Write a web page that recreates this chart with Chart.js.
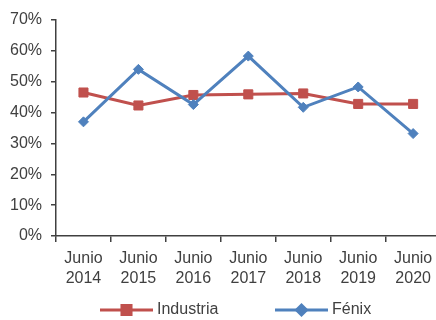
<!DOCTYPE html>
<html>
<head>
<meta charset="utf-8">
<script src="https://cdn.jsdelivr.net/npm/chart.js@4/dist/chart.umd.min.js"></script>
<style>
  html, body { margin: 0; padding: 0; background: #fff; overflow: hidden; }
  #wrap { width: 448px; height: 320px; }
</style>
</head>
<body>
<div id="wrap"><canvas id="chart" width="448" height="320"></canvas></div>
<script>
const categories = [
  ['Junio', '2014'], ['Junio', '2015'], ['Junio', '2016'], ['Junio', '2017'],
  ['Junio', '2018'], ['Junio', '2019'], ['Junio', '2020']
];
const industria = [46.5, 42.3, 45.7, 45.9, 46.2, 42.8, 42.8];
const fenix = [37.0, 54.0, 42.6, 58.3, 41.7, 48.3, 33.2];
const yMin = 0, yMax = 70, yStep = 10;

const RED = '#C0504D';
const BLUE = '#4F81BD';
const AXIS = '#404040';
const FONT = "'Liberation Sans', Arial, sans-serif";
const FONT_SIZE = 16;

// legend: line + marker + label, under the axis labels
const legendItems = [
  { x: 100, label: 'Industria' },
  { x: 275, label: 'Fénix' }
];
const legendY = 310;
const legendLine = 53;

const lineLegend = {
  id: 'lineLegend',
  afterDraw(chart) {
    const ctx = chart.ctx;
    chart.data.datasets.forEach((ds, i) => {
      const item = legendItems[i];
      ctx.save();
      ctx.strokeStyle = ds.borderColor;
      ctx.lineWidth = ds.borderWidth;
      ctx.beginPath();
      ctx.moveTo(item.x, legendY);
      ctx.lineTo(item.x + legendLine, legendY);
      ctx.stroke();
      ctx.fillStyle = ds.pointBackgroundColor;
      ctx.strokeStyle = ds.pointBorderColor;
      Chart.helpers.drawPoint(ctx, {
        pointStyle: ds.pointStyle, radius: ds.pointRadius, rotation: 0, borderWidth: 1
      }, item.x + legendLine / 2, legendY);
      ctx.fillStyle = AXIS;
      ctx.font = FONT_SIZE + 'px ' + FONT;
      ctx.textBaseline = 'middle';
      ctx.fillText(item.label, item.x + legendLine + 4, legendY);
      ctx.restore();
    });
  }
};

new Chart(document.getElementById('chart'), {
  type: 'line',
  data: {
    labels: categories,
    datasets: [
      {
        label: 'Industria',
        data: industria,
        borderColor: RED,
        borderWidth: 3,
        pointStyle: 'rect',
        pointRadius: 6.4,
        pointBackgroundColor: RED,
        pointBorderColor: RED,
        pointBorderWidth: 1,
        order: 1
      },
      {
        label: 'Fénix',
        data: fenix,
        borderColor: BLUE,
        borderWidth: 3,
        pointStyle: 'rectRot',
        pointRadius: 5,
        pointBackgroundColor: BLUE,
        pointBorderColor: BLUE,
        pointBorderWidth: 1,
        order: 0
      }
    ]
  },
  options: {
    responsive: false,
    animation: false,
    layout: { padding: { top: 20, left: 0, right: 0, bottom: 0 } },
    plugins: {
      legend: { display: false },
      tooltip: { enabled: false }
    },
    scales: {
      x: {
        offset: true,
        grid: { offset: true, drawOnChartArea: false, drawTicks: true, tickLength: 6, color: AXIS, lineWidth: 1.5 },
        border: { color: AXIS, width: 1.5 },
        ticks: {
          color: AXIS,
          padding: 7,
          maxRotation: 0,
          autoSkip: false,
          font: { family: FONT, size: FONT_SIZE, lineHeight: 1.25 }
        },
        afterFit(scale) { scale.height = 84; }
      },
      y: {
        min: yMin,
        max: yMax,
        grid: { drawOnChartArea: false, drawTicks: true, tickLength: 5, color: AXIS, lineWidth: 1.5 },
        border: { color: AXIS, width: 1.5 },
        ticks: {
          stepSize: yStep,
          color: AXIS,
          padding: 9,
          font: { family: FONT, size: FONT_SIZE },
          callback: v => v + '%'
        },
        afterFit(scale) { scale.width = 56; }
      }
    }
  },
  plugins: [lineLegend]
});
</script>
</body>
</html>
